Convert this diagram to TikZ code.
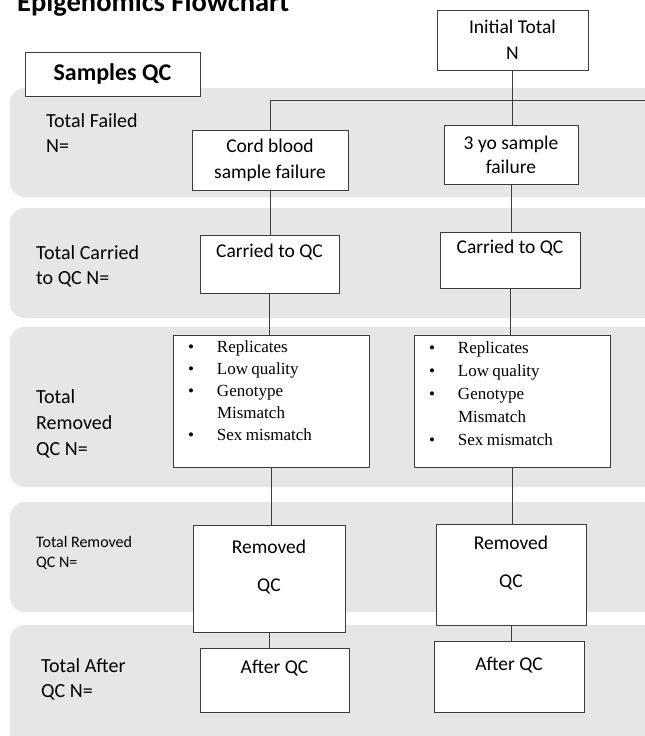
\documentclass[tikz,border=0pt]{standalone}
\usepackage{fontspec}
\setmainfont{Carlito}
\newfontfamily\listfont{Liberation Serif}
\usepackage{tikz}

\definecolor{bandgray}{RGB}{230,230,230}
\definecolor{linegray}{RGB}{60,60,60}

% the list of QC removals, #1 = row distance, #2 = space below
\newcommand{\qcitems}[2]{%
  {\listfont\fontsize{17}{#1}\selectfont
  \begin{tabular}{@{}p{29pt}@{}l@{}}
    \textbullet & Replicates\\
    \textbullet & Low quality\\
    \textbullet & Genotype\\
                & Mismatch\\
    \textbullet & Sex mismatch\\[#2]
  \end{tabular}}}

\begin{document}
\begin{tikzpicture}[
    x=1pt, y=-1pt,
    box/.style={draw=linegray, line width=.8pt, fill=white, inner sep=0pt,
                align=center, font=\fontsize{19.5}{26}\selectfont},
    listbox/.style={draw=linegray, line width=.8pt, fill=white,
                inner xsep=15pt, inner ysep=2pt, text width=166pt, align=left},
    rowlabel/.style={anchor=west, inner sep=0pt, align=left,
                font=\fontsize{20}{25}\selectfont},
    band/.style={fill=bandgray, rounded corners=15pt}]

      \useasboundingbox (0,0) rectangle (645,736);
      \clip (0,0) rectangle (645,736);

      % bands
      \fill[band] (10,88)  rectangle (670,197);
      \fill[band] (10,208) rectangle (670,318);
      \fill[band] (10,327) rectangle (670,487);
      \fill[band] (10,502) rectangle (670,612);
      \fill[band] (10,625) rectangle (670,760);

      \node[anchor=base west, inner sep=0pt, font=\fontsize{28.5}{30}\selectfont\bfseries]
        (title) at (17,12) {Epigenomics Flowchart};

      \node[box, minimum width=175pt, minimum height=44pt,
            font=\fontsize{24}{28}\selectfont\bfseries] (samples) at (112.5,74) {Samples QC};

      % row labels
      \node[rowlabel] (failed)  at (46,133) {Total Failed\\N=};
      \node[rowlabel] (carried) at (36,266) {Total Carried\\to QC N=};
      \node[rowlabel, font=\fontsize{20}{26}\selectfont] (removed) at (36,424) {Total\\Removed\\QC N=};
      \node[rowlabel, font=\fontsize{16}{20}\selectfont] (removedqc) at (36,553) {Total Removed\\QC N=};
      \node[rowlabel] (after)   at (41,679) {Total After\\QC N=};

      \node[box, minimum width=151pt, minimum height=60pt] (init) at (512.5,40) {Initial Total\\N};

      % cord blood
      \node[box, minimum width=156pt, minimum height=60pt] (cord)   at (270,160)   {Cord blood\\sample failure};
      \node[box, minimum width=139pt, minimum height=58pt] (carryL) at (269.5,264) {Carried to QC\\~};
      \node[listbox] (listL) at (271,401) {\qcitems{22pt}{18pt}};
      \node[box, minimum width=152pt, minimum height=107pt] (remL)  at (269,578.5) {Removed\\[12pt]QC\\~};
      \node[box, minimum width=149pt, minimum height=64pt] (afterL) at (274.5,680) {After QC\\~};

      % 3 yo
      \node[box, minimum width=134pt, minimum height=59pt, font=\fontsize{19.5}{24}\selectfont]
        (yo)     at (511,154.5) {3 yo sample\\failure};
      \node[box, minimum width=140pt, minimum height=56pt] (carryR) at (510,260)   {Carried to QC\\~};
      \node[listbox] (listR) at (512,401) {\qcitems{23pt}{13pt}};
      \node[box, minimum width=150pt, minimum height=101pt] (remR)  at (511,574.5) {Removed\\[12pt]QC\\~};
      \node[box, minimum width=150pt, minimum height=71pt] (afterR) at (509,676.5) {After QC\\~};

      \coordinate (splitL) at (270,100);
      \coordinate (splitR) at (660,100);

      \draw[linegray, line width=.8pt] (init.south) -- (init.south |- yo.north);
      \draw[linegray, line width=.8pt] (cord.north) -- (splitL) -- (splitR);

      \foreach \a/\b in {cord/carryL, carryL/listL, listL/remL, remL/afterL,
                         yo/carryR, carryR/listR, listR/remR, remR/afterR}
        \draw[linegray, line width=.8pt] (\a.south) -- (\a.south |- \b.north);

    \end{tikzpicture}
\end{document}
